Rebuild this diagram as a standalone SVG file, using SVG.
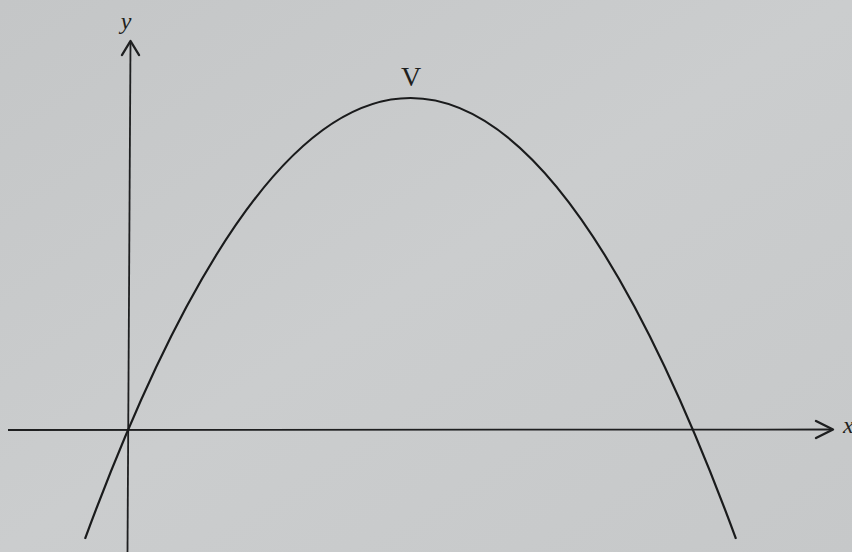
<svg xmlns="http://www.w3.org/2000/svg" width="852" height="552" viewBox="0 0 852 552">
<defs>
<style>
.ax{stroke:#1e1f20;stroke-width:1.8;fill:none}
.hd{stroke:#1e1f20;stroke-width:2.4;fill:none;stroke-linecap:round;stroke-linejoin:round}
.cv{stroke:#1a1b1c;stroke-width:2.2;fill:none}
.lbl{font-family:"Liberation Serif","DejaVu Serif",serif;fill:#1e1f20}
</style>
<linearGradient id="bg" x1="0" y1="0" x2="1" y2="1">
<stop offset="0" stop-color="#c4c6c7"/>
<stop offset="0.5" stop-color="#cbcdce"/>
<stop offset="1" stop-color="#c6c8c9"/>
</linearGradient>
</defs>
<rect width="852" height="552" fill="url(#bg)"/>
<g id="connectors">
<line class="ax" x1="8" y1="430" x2="832" y2="429.5"/>
<polyline class="hd" points="816,421 833,429.5 816,438"/>
<line class="ax" x1="127.5" y1="552" x2="130.5" y2="42"/>
<polyline class="hd" points="122,55 130.5,41 139,55"/>
</g>
<g id="curve">
<path class="cv" d="M85,538.8 Q410.5,-342.8 736,538.8"/>
</g>
<g id="label-y"><text class="lbl" x="126" y="29" font-size="24" font-style="italic" text-anchor="middle">y</text></g>
<g id="label-x"><text class="lbl" x="843" y="433" font-size="24" font-style="italic">x</text></g>
<g id="label-V"><text class="lbl" x="411" y="86" font-size="28" text-anchor="middle">V</text></g>
</svg>
